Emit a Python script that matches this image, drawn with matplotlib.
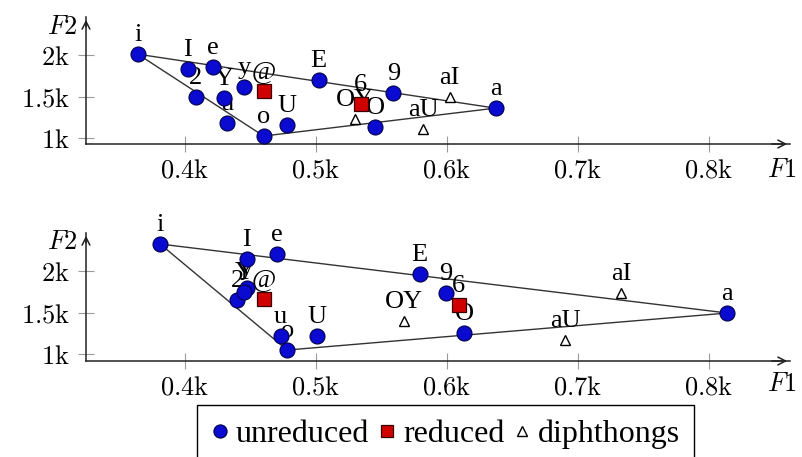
import matplotlib
matplotlib.use("Agg")
import matplotlib.pyplot as plt
from matplotlib.lines import Line2D

plt.rcParams["mathtext.fontset"] = "cm"
SERIF = "Liberation Serif"

# ---- formant data (Hz) ----
# upper panel
a_unred_labels = ["i", "I", "e", "y", "2", "Y", "u", "o", "U", "E", "O", "9", "a"]
a_unred_f1 = [364, 402, 421, 445, 408, 430, 432, 460, 478, 502, 545, 559, 637]
a_unred_f2 = [2010, 1830, 1855, 1614, 1494, 1480, 1180, 1024, 1157, 1700, 1133, 1542, 1360]
a_red_labels = ["@", "6"]
a_red_f1 = [460, 534]
a_red_f2 = [1566, 1410]
a_diph_labels = ["OY", "aI", "aU"]
a_diph_f1 = [530, 602, 582]
a_diph_f2 = [1229, 1494, 1108]

# lower panel
b_unred_labels = ["i", "I", "e", "y", "2", "Y", "u", "o", "U", "E", "9", "O", "a"]
b_unred_f1 = [381, 447, 470, 447, 440, 445, 473, 478, 501, 579, 599, 613, 814]
b_unred_f2 = [2325, 2145, 2205, 1795, 1650, 1747, 1217, 1048, 1217, 1964, 1735, 1253, 1494]
b_red_labels = ["@", "6"]
b_red_f1 = [460, 609]
b_red_f2 = [1663, 1590]
b_diph_labels = ["OY", "aI", "aU"]
b_diph_f1 = [567, 733, 690]
b_diph_f2 = [1398, 1735, 1169]

# vowel-space corners
corner_vowels = ["i", "a", "o"]

f1_ticks = [400, 500, 600, 700, 800]
f1_tick_labels = ["0.4k", "0.5k", "0.6k", "0.7k", "0.8k"]
f2_ticks = [1000, 1500, 2000]
f2_tick_labels = ["1k", "1.5k", "2k"]

legend_labels = ["unreduced", "reduced", "diphthongs"]

# ---- styles ----
BLUE = "#0a0ad0"
BLUE_EDGE = "#00004a"
RED = "#d00000"
RED_EDGE = "#3a0000"
W, H = 803, 457

circle_style = dict(marker="o", ms=10.8, mfc=BLUE, mec=BLUE_EDGE, mew=0.8, ls="none", zorder=5)
square_style = dict(marker="s", ms=9.5, mfc=RED, mec=RED_EDGE, mew=0.9, ls="none", zorder=5)
tri_style = dict(marker="^", ms=7.5, mfc="white", mec="black", mew=1.0, ls="none", zorder=5)

fig = plt.figure(figsize=(W / 100, H / 100), dpi=100)


def px_rect(left, top, right, bottom):
    return [left / W, 1 - bottom / H, (right - left) / W, (bottom - top) / H]


def label_points(ax, labels, xs, ys):
    for lab, x, y in zip(labels, xs, ys):
        ax.annotate(lab, (x, y), xytext=(0, 9.2), textcoords="offset points",
                    ha="center", va="baseline", family=SERIF, fontsize=19,
                    zorder=3)


def draw_panel(rect, unred, red, diph, ylim):
    ax = fig.add_axes(rect)
    ax.set_xlim(324.4, 861.8)
    ax.set_ylim(*ylim)
    for s in ("top", "right"):
        ax.spines[s].set_visible(False)
    for s in ("left", "bottom"):
        ax.spines[s].set_linewidth(1.1)
        ax.spines[s].set_color("#222222")
    # arrow heads on the axis lines
    ax.annotate("", xy=(1.0, 0), xytext=(0.97, 0), xycoords="axes fraction",
                arrowprops=dict(arrowstyle="->,head_length=0.55,head_width=0.28",
                                lw=1.1, color="#222222"))
    ax.annotate("", xy=(0, 1.0), xytext=(0, 0.9), xycoords="axes fraction",
                arrowprops=dict(arrowstyle="->,head_length=0.55,head_width=0.28",
                                lw=1.1, color="#222222"))

    ax.set_xticks(f1_ticks)
    ax.set_xticklabels([r"$%s\mathrm{k}$" % t[:-1] for t in f1_tick_labels])
    ax.set_yticks(f2_ticks)
    ax.set_yticklabels([r"$%s\mathrm{k}$" % t[:-1] for t in f2_tick_labels])
    ax.tick_params(direction="inout", length=11, width=0.8, color="#9a9a9a",
                   labelsize=19)
    ax.tick_params(axis="x", pad=4)
    ax.tick_params(axis="y", pad=6)

    u_lab, u_x, u_y = unred
    # vowel triangle through the corner vowels
    idx = [u_lab.index(v) for v in corner_vowels] + [u_lab.index(corner_vowels[0])]
    ax.plot([u_x[k] for k in idx], [u_y[k] for k in idx], color="#333333",
            lw=1.0, zorder=2)

    ax.plot(u_x, u_y, **circle_style)
    ax.plot(red[1], red[2], **square_style)
    ax.plot(diph[1], diph[2], **tri_style)
    label_points(ax, *unred)
    label_points(ax, *red)
    label_points(ax, *diph)
    return ax


ax1 = draw_panel(px_rect(86, 17, 790, 144),
                 (a_unred_labels, a_unred_f1, a_unred_f2),
                 (a_red_labels, a_red_f1, a_red_f2),
                 (a_diph_labels, a_diph_f1, a_diph_f2),
                 (928, 2458))
ax2 = draw_panel(px_rect(86, 233, 790, 361),
                 (b_unred_labels, b_unred_f1, b_unred_f2),
                 (b_red_labels, b_red_f1, b_red_f2),
                 (b_diph_labels, b_diph_f1, b_diph_f2),
                 (916, 2458))

# axis names
for ytop, ybot in ((27, 170), (242, 384)):
    fig.text(62 / W, 1 - ytop / H, r"$F2$", ha="center", va="center", fontsize=19)
    fig.text(797 / W, 1 - ybot / H, r"$F1$", ha="right", va="center", fontsize=19)

handles = [
    Line2D([], [], **{**circle_style, "ms": 9.5}),
    Line2D([], [], **{**square_style, "ms": 8.5}),
    Line2D([], [], **{**tri_style, "ms": 6.5}),
]
leg = fig.legend(handles, legend_labels, loc="upper left",
                 bbox_to_anchor=(197 / W, 1 - 405 / H), borderaxespad=0,
                 ncol=3, frameon=True,
                 fancybox=False, edgecolor="black", framealpha=1,
                 handlelength=0.55, handletextpad=0.22, columnspacing=0.28,
                 borderpad=0.45, prop=dict(family=SERIF, size=23))
leg.get_frame().set_linewidth(1.0)

fig.savefig("out.png", dpi=100)
